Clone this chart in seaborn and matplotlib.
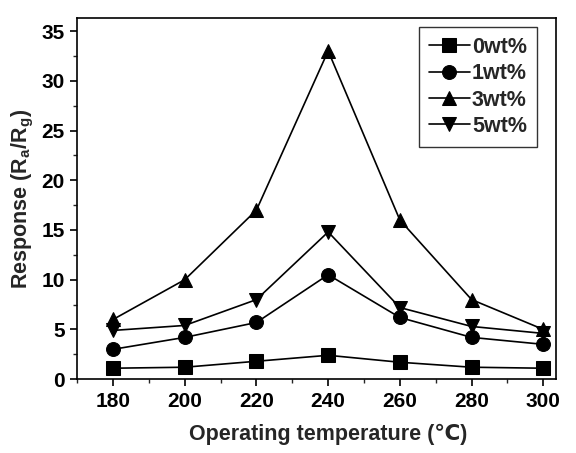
import matplotlib
matplotlib.use("Agg")
import matplotlib.pyplot as plt
import seaborn as sns
import pandas as pd
from matplotlib.ticker import MultipleLocator

temps = [180, 200, 220, 240, 260, 280, 300]
r0 = [1.1, 1.2, 1.8, 2.4, 1.7, 1.2, 1.1]
r1 = [3.0, 4.2, 5.7, 10.5, 6.2, 4.2, 3.5]
r3 = [6.0, 10.0, 17.0, 33.0, 16.0, 8.0, 5.0]
r5 = [4.9, 5.4, 8.0, 14.8, 7.2, 5.3, 4.6]
labels = ["0wt%", "1wt%", "3wt%", "5wt%"]

rows = []
for lab, vals in zip(labels, [r0, r1, r3, r5]):
    for t, v in zip(temps, vals):
        rows.append({"T": t, "R": v, "s": lab})
df = pd.DataFrame(rows)

sns.set_theme(style="ticks")
plt.rcParams['font.family'] = ['Liberation Sans', 'DejaVu Sans']
plt.rcParams['font.weight'] = 'bold'

fig = plt.figure(figsize=(5.76, 4.53), dpi=100)
ax = fig.add_axes([0.134, 0.163, 0.831, 0.797])

markers = {"0wt%": "s", "1wt%": "o", "3wt%": "^", "5wt%": "v"}
sns.lineplot(data=df, x="T", y="R", hue="s", style="s", markers=markers, dashes=False,
             palette=["black"] * 4, markersize=10, linewidth=1.2, ax=ax,
             markeredgecolor="black")

ax.set_xlim(170, 303.5)
ax.set_ylim(0, 36.3)
ax.xaxis.set_major_locator(MultipleLocator(20))
ax.xaxis.set_minor_locator(MultipleLocator(10))
ax.yaxis.set_major_locator(MultipleLocator(5))
ax.yaxis.set_minor_locator(MultipleLocator(2.5))
ax.tick_params(axis='both', which='major', direction='out', length=5, width=1.2,
               labelsize=15, colors='black', pad=4)
ax.tick_params(axis='both', which='minor', direction='out', length=3, width=1.0)
for lbl in ax.get_xticklabels() + ax.get_yticklabels():
    lbl.set_fontweight('bold')
for sp in ax.spines.values():
    sp.set_visible(True)
    sp.set_linewidth(1.2)
    sp.set_color('black')

ax.set_xlabel("Operating temperature (℃)", fontsize=15.5, fontweight='bold')
ax.xaxis.set_label_coords(0.524, -0.125)
ax.set_ylabel("Response (R$_\\mathregular{a}$/R$_\\mathregular{g}$)", fontsize=15.5, fontweight='bold', labelpad=4)

leg = ax.legend(loc='upper right', bbox_to_anchor=(0.96, 0.975), frameon=True, fancybox=False,
                edgecolor='black', prop={'weight': 'bold', 'size': 15.5}, handlelength=1.9,
                handletextpad=0.1, borderpad=0.45, labelspacing=0.25, borderaxespad=0.0)
leg.get_frame().set_linewidth(1.0)

fig.savefig("out.png", dpi=100)
